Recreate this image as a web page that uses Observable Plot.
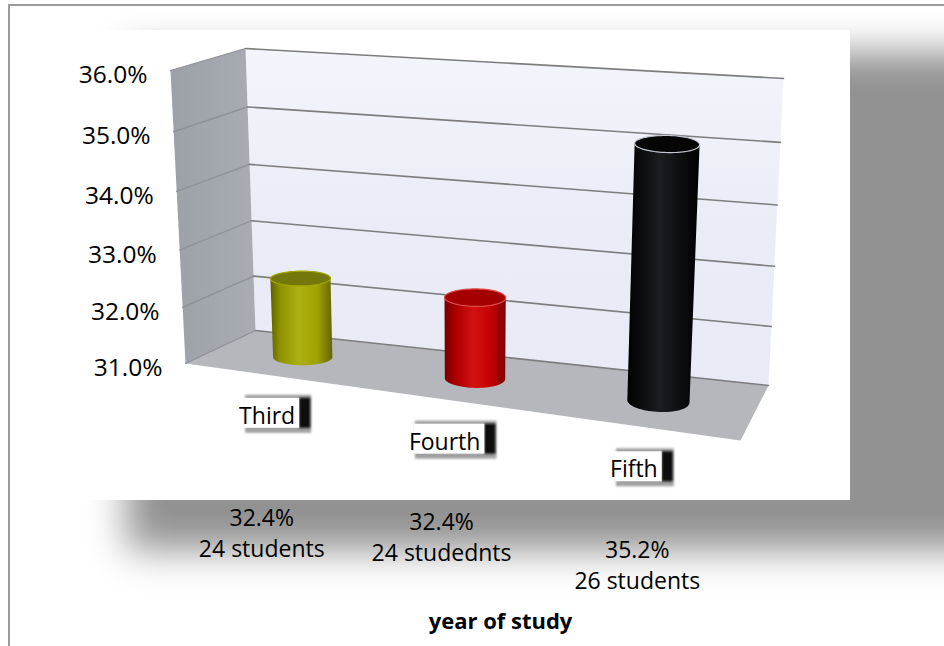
<!DOCTYPE html>
<html>
<head>
<meta charset="utf-8">
<script src="https://cdn.jsdelivr.net/npm/d3@7"></script>
<script src="https://cdn.jsdelivr.net/npm/@observablehq/plot@0.6"></script>
<style>
  html, body { margin: 0; padding: 0; overflow: hidden; background: #fff; font-family: "Open Sans", sans-serif; }
  #wrap { position: relative; width: 944px; height: 646px; overflow: hidden; background: #fff; }
  #frame { position: absolute; left: 8px; top: 4px; width: 1000px; height: 700px;
           border-left: 2px solid #9c9c9c; border-top: 2px solid #9c9c9c; }
  #panel { position: absolute; left: 10px; top: 30px; width: 840px; height: 470px; background: #fff;
           box-shadow: 131px 36px 36px 14px #929292; }
  #chart { position: absolute; left: 0; top: 0; }
</style>
</head>
<body>
<div id="wrap">
  <div id="frame"></div>
  <div id="panel"></div>
  <div id="chart"></div>
</div>
<script>
// ---- data ----
const categories = ["Third", "Fourth", "Fifth"];
const percents = [32.4, 32.4, 35.2];
const countLabels = ["24 students", "24 studednts", "26 students"];
const yTicks = [31, 32, 33, 34, 35, 36];
const xTitle = "year of study";

// ---- 3D box projection (category u, value v, depth w) ----
const U = categories.length;
const vMin = d3.min(yTicks), vMax = d3.max(yTicks);
const sU = d3.scaleLinear([0, U], [0, 1]);
const sV = d3.scaleLinear([vMin, vMax], [0, 1]);
// box corners on screen: bottom-left, bottom-right, top-right, top-left
const backCorners = [[255, 330], [768, 385], [783, 78], [245, 48]];
const frontCorners = [[185, 363], [740, 440], [757, 120], [170, 70]];

function squareToQuad([[x0, y0], [x1, y1], [x2, y2], [x3, y3]]) {
  const dx1 = x1 - x2, dy1 = y1 - y2, dx2 = x3 - x2, dy2 = y3 - y2;
  const sx = x0 - x1 + x2 - x3, sy = y0 - y1 + y2 - y3;
  const den = dx1 * dy2 - dy1 * dx2;
  const g = (sx * dy2 - sy * dx2) / den, h = (dx1 * sy - dy1 * sx) / den;
  const a = x1 - x0 + g * x1, b = x3 - x0 + h * x3, c = x0;
  const d = y1 - y0 + g * y1, e = y3 - y0 + h * y3, f = y0;
  return (s, t) => { const W = g * s + h * t + 1; return [(a * s + b * t + c) / W, (d * s + e * t + f) / W]; };
}
const H0 = squareToQuad(backCorners), H1 = squareToQuad(frontCorners);
function project3(u, v, w = 1) {
  const s = sU(u), t = sV(v);
  const [x0, y0] = H0(s, t), [x1, y1] = H1(s, t);
  return [x0 + (x1 - x0) * w, y0 + (y1 - y0) * w];
}
const projection = d3.geoTransform({
  point(u, v, w) { const [x, y] = project3(u, v, w == null ? 1 : w); this.stream.point(x, y); }
});

// ---- geometry built from the data ----
const poly = (pts) => ({type: "Polygon", coordinates: [[...pts, pts[0]]]});
const backWall = poly([[0, vMin, 0], [U, vMin, 0], [U, vMax, 0], [0, vMax, 0]]);
const sideWall = poly([[0, vMin, 1], [0, vMin, 0], [0, vMax, 0], [0, vMax, 1]]);
const floorPlane = poly([[0, vMin, 1], [U, vMin, 1], [U, vMin, 0], [0, vMin, 0]]);
const backGrid = yTicks.map(t => ({type: "LineString", coordinates: [[0, t, 0], [U, t, 0]]}));
const sideGrid = yTicks.map(t => ({type: "LineString", coordinates: [[0, t, 1], [0, t, 0]]}));

const W0 = 0.5, RU = 0.16, RW = 0.2, N = 72;
const pt = (u0, v, a) => [u0 + RU * Math.cos(a), v, W0 + RW * Math.sin(a)];
function topRing(u0, v) {
  return {type: "Polygon", coordinates: [d3.range(N + 1).map(k => pt(u0, v, 2 * Math.PI * k / N))]};
}
function bodyShape(u0, v) {
  const angles = d3.range(N).map(k => 2 * Math.PI * k / N);
  const aMax = d3.greatest(angles, a => project3(...pt(u0, v, a))[0]);
  const arc = (vv, from, to) => d3.range(N / 2 + 1).map(k => pt(u0, vv, from + (to - from) * k / (N / 2)));
  const ring = [...arc(vMin, aMax, aMax + Math.PI), ...arc(v, aMax + Math.PI, aMax)];
  ring.push(ring[0]);
  return {type: "Polygon", coordinates: [ring]};
}

const gradStops = [
  [[0, "#5e6000"], [0.15, "#8e9000"], [0.45, "#adb012"], [0.75, "#a0a200"], [1, "#656600"]],
  [[0, "#760000"], [0.2, "#b00000"], [0.48, "#d41212"], [0.78, "#c00000"], [1, "#780000"]],
  [[0, "#000000"], [0.45, "#1b1d22"], [1, "#000000"]]
];
const topFill = ["#74770a", "#a40000", "#060606"];
const topStroke = ["#a3a600", "#e04a4a", "#c3c8d4"];

const ns = "http://www.w3.org/2000/svg";
function gradient(id, stops, x2, y2) {
  const lg = document.createElementNS(ns, "linearGradient");
  lg.setAttribute("id", id);
  lg.setAttribute("x1", "0"); lg.setAttribute("y1", "0");
  lg.setAttribute("x2", x2); lg.setAttribute("y2", y2);
  stops.forEach(([o, c]) => {
    const s = document.createElementNS(ns, "stop");
    s.setAttribute("offset", o); s.setAttribute("stop-color", c);
    lg.appendChild(s);
  });
  return lg;
}
const defsMark = () => {
  const defs = document.createElementNS(ns, "defs");
  gradStops.forEach((stops, i) => defs.appendChild(gradient("cyl-" + i, stops, "1", "0")));
  defs.appendChild(gradient("side", [[0, "#9ca0a7"], [1, "#a9adb3"]], "1", "0"));
  defs.appendChild(gradient("back", [[0, "#f3f5fb"], [0.5, "#eaedf6"], [1, "#e8ebf5"]], "0", "1"));
  const f = document.createElementNS(ns, "filter");
  f.setAttribute("id", "soft"); f.setAttribute("x", "-20%"); f.setAttribute("y", "-30%");
  f.setAttribute("width", "140%"); f.setAttribute("height", "160%");
  const blur = document.createElementNS(ns, "feGaussianBlur");
  blur.setAttribute("stdDeviation", "1.3");
  f.appendChild(blur);
  defs.appendChild(f);
  return defs;
};

const font = {fontFamily: "Open Sans", fontSize: 23, fill: "#000"};

const cylinderMarks = categories.flatMap((c, i) => [
  Plot.geo([bodyShape(i + 0.5, percents[i])], {fill: `url(#cyl-${i})`, stroke: "none"}),
  Plot.geo([topRing(i + 0.5, percents[i])], {fill: topFill[i], stroke: topStroke[i], strokeWidth: 1.2})
]);

const labelOffsets = [[-9, 156], [-8, 135], [-3, 137]];
const dataLabelMarks = categories.map((c, i) =>
  Plot.text([i], {
    x: i + 0.5, y: vMin,
    text: () => `${percents[i].toFixed(1)}%\n${countLabels[i]}`,
    dx: labelOffsets[i][0], dy: labelOffsets[i][1],
    lineHeight: 1.36, textAnchor: "middle", ...font
  })
);

const chart = Plot.plot({
  width: 944,
  height: 646,
  margin: 0,
  projection,
  style: {background: "transparent", overflow: "visible"},
  marks: [
    defsMark,
    Plot.geo([backWall], {fill: "url(#back)", stroke: "none"}),
    Plot.geo([sideWall], {fill: "url(#side)", stroke: "none"}),
    Plot.geo([floorPlane], {fill: "#b5b7bc", stroke: "none"}),
    Plot.geo(sideGrid, {stroke: "#8c9096", strokeWidth: 1.3, fill: "none"}),
    Plot.geo(backGrid, {stroke: "#7d7d7d", strokeWidth: 1.6, fill: "none"}),
    ...cylinderMarks,
    Plot.text(yTicks, {x: 0, y: d => d, text: d => d.toFixed(1) + "%", textAnchor: "end", dx: -23, dy: 5,
      ...font, fontSize: 24.5}),
    Plot.text(categories, {x: (d, i) => i + 0.5, y: 30.3, text: d => d, dx: -5, dy: 2, textAnchor: "middle", ...font}),
    ...dataLabelMarks,
    Plot.text([xTitle], {frameAnchor: "bottom", lineAnchor: "middle", dy: -25, dx: 28,
      fontFamily: "Open Sans", fontSize: 22, fontWeight: "bold", fill: "#000"})
  ]
});
document.getElementById("chart").appendChild(chart);

// label boxes (white box with dark shadow) behind the category labels
Array.from(chart.querySelectorAll("text"))
  .filter(t => categories.includes(t.textContent.trim()))
  .forEach(t => {
    const bb = t.getBBox();
    const cy = bb.y + bb.height / 2;
    const left = bb.x + 6, right = bb.x + bb.width + 16, top = cy - 20, bottom = cy + 18;
    const g = document.createElementNS(ns, "g");
    const tr = t.getAttribute("transform");
    if (tr) g.setAttribute("transform", tr);
    const mk = (x, y, w, h, fill, filt) => {
      const r = document.createElementNS(ns, "rect");
      r.setAttribute("x", x); r.setAttribute("y", y); r.setAttribute("width", w); r.setAttribute("height", h);
      r.setAttribute("fill", fill); if (filt) r.setAttribute("filter", "url(#soft)");
      g.appendChild(r);
    };
    mk(left, top, right - left, bottom - top, "#a0a0a0", true);
    mk(right - 12, top + 3, 11, bottom - top - 8, "#0c0c0c", true);
    mk(left - 1, top + 3, right - 12 - left + 1, bottom - top - 8, "#fff", false);
    t.parentNode.insertBefore(g, t);
  });
</script>
</body>
</html>
